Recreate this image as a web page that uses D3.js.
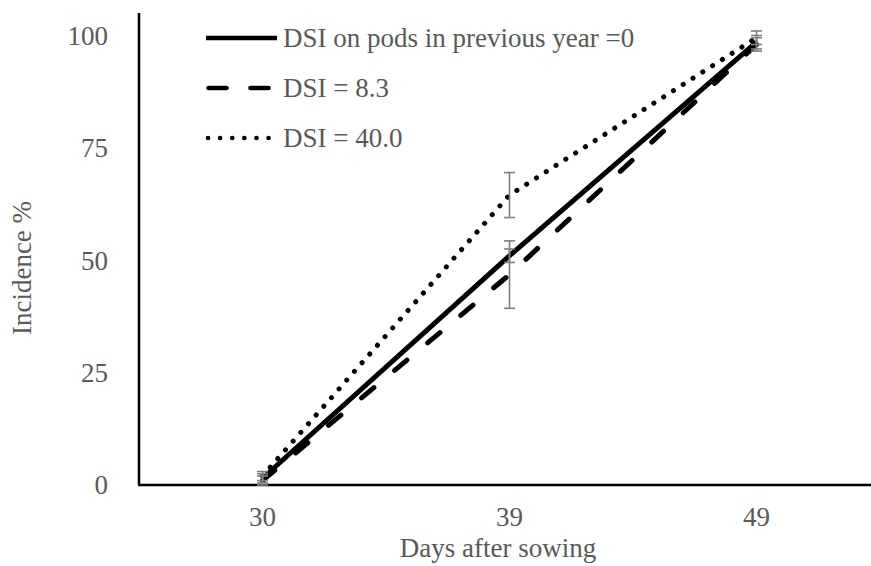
<!DOCTYPE html>
<html><head><meta charset="utf-8">
<script src="https://cdn.jsdelivr.net/npm/d3@7"></script>
<style>body{margin:0;background:#fff}svg{display:block}</style>
</head><body>
<svg id="c" width="871" height="566"></svg>
<script>
const categories = ["30", "39", "49"];
const seriesNames = ["DSI on pods in previous year =0", "DSI = 8.3", "DSI = 40.0"];
const solidValues = [1.5, 51, 98.5];
const dashedValues = [1, 46.8, 98];
const dottedValues = [2, 64.5, 99.5];
const solidErr = [1, 1.5, 1.5];
const dashedErr = [1, 7.5, 1.5];
const dottedErr = [1, 5, 1.5];
const yTicks = [0, 25, 50, 75, 100];
const xTitle = "Days after sowing";
const yTitle = "Incidence %";

(function () {
const svg = d3.select("#c");
const font = "'Liberation Serif', 'Times New Roman', serif";
const textCol = "#595959";
const mLeft = 139, mRight = 880, mTop = 13, mBottom = 485;

const x = d3.scaleBand().domain(categories).range([mLeft, mRight]);
const y = d3.scaleLinear().domain([0, 105]).range([mBottom, mTop]);
const cx = c => x(c) + x.bandwidth() / 2;

// axes
svg.append("line").attr("x1", mLeft).attr("x2", mLeft).attr("y1", mTop).attr("y2", mBottom)
  .attr("stroke", "#000").attr("stroke-width", 2.5);
svg.append("line").attr("x1", mLeft - 1).attr("x2", 871).attr("y1", mBottom).attr("y2", mBottom)
  .attr("stroke", "#000").attr("stroke-width", 2.5);

svg.append("g").selectAll("text").data(yTicks).join("text")
  .attr("x", 108).attr("y", d => y(d)).attr("dy", "0.35em")
  .attr("text-anchor", "end").style("font-family", font).attr("font-size", 27)
  .attr("fill", textCol).text(d => d);

svg.append("g").selectAll("text").data(categories).join("text")
  .attr("x", d => cx(d)).attr("y", 517).attr("dy", "0.35em")
  .attr("text-anchor", "middle").style("font-family", font).attr("font-size", 27)
  .attr("fill", textCol).text(d => d);

svg.append("text").attr("x", (mLeft + 871) / 2 - 7).attr("y", 548).attr("dy", "0.35em")
  .attr("text-anchor", "middle").style("font-family", font).attr("font-size", 27)
  .attr("fill", textCol).text(xTitle);

svg.append("text").attr("transform", "translate(22,268) rotate(-90)").attr("dy", "0.35em")
  .attr("text-anchor", "middle").style("font-family", font).attr("font-size", 27)
  .attr("fill", textCol).text(yTitle);

const styles = [
  {dash: null, cap: "butt", w: 5, lx1: 206, lx2: 277, ldash: null},
  {dash: "16,27", cap: "round", w: 5, lx1: 208.5, lx2: 270, ldash: "18,24"},
  {dash: "0.1,11.5", cap: "round", w: 5, lx1: 208, lx2: 269, ldash: "0.1,12"}
];
const series = [
  {name: seriesNames[0], vals: solidValues, err: solidErr, st: styles[0]},
  {name: seriesNames[1], vals: dashedValues, err: dashedErr, st: styles[1]},
  {name: seriesNames[2], vals: dottedValues, err: dottedErr, st: styles[2]}
];

const line = d3.line().x(d => cx(d.c)).y(d => y(d.v));
series.forEach(s => {
  const pts = categories.map((c, i) => ({c, v: s.vals[i]}));
  svg.append("path").attr("d", line(pts)).attr("fill", "none")
    .attr("stroke", "#000").attr("stroke-width", s.st.w)
    .attr("stroke-linecap", s.st.cap).attr("stroke-linejoin", "round")
    .attr("stroke-dasharray", s.st.dash);
});

// error bars
const eg = svg.append("g").attr("stroke", "#7f7f7f").attr("stroke-width", 1.6);
series.forEach(s => {
  categories.forEach((c, i) => {
    const xc = cx(c), hi = y(s.vals[i] + s.err[i]), lo = y(s.vals[i] - s.err[i]);
    eg.append("line").attr("x1", xc).attr("x2", xc).attr("y1", hi).attr("y2", lo);
    eg.append("line").attr("x1", xc - 5.5).attr("x2", xc + 5.5).attr("y1", hi).attr("y2", hi);
    eg.append("line").attr("x1", xc - 5.5).attr("x2", xc + 5.5).attr("y1", lo).attr("y2", lo);
  });
});

// legend
const lg = svg.append("g");
series.forEach((s, i) => {
  const ly = 38 + i * 50;
  lg.append("line").attr("x1", s.st.lx1).attr("x2", s.st.lx2)
    .attr("y1", ly).attr("y2", ly).attr("stroke", "#000").attr("stroke-width", 4.6)
    .attr("stroke-linecap", s.st.cap).attr("stroke-dasharray", s.st.ldash);
  lg.append("text").attr("x", 283).attr("y", ly).attr("dy", "0.35em")
    .style("font-family", font).attr("font-size", 27).attr("fill", textCol).text(s.name);
});
})();
</script>
</body></html>
